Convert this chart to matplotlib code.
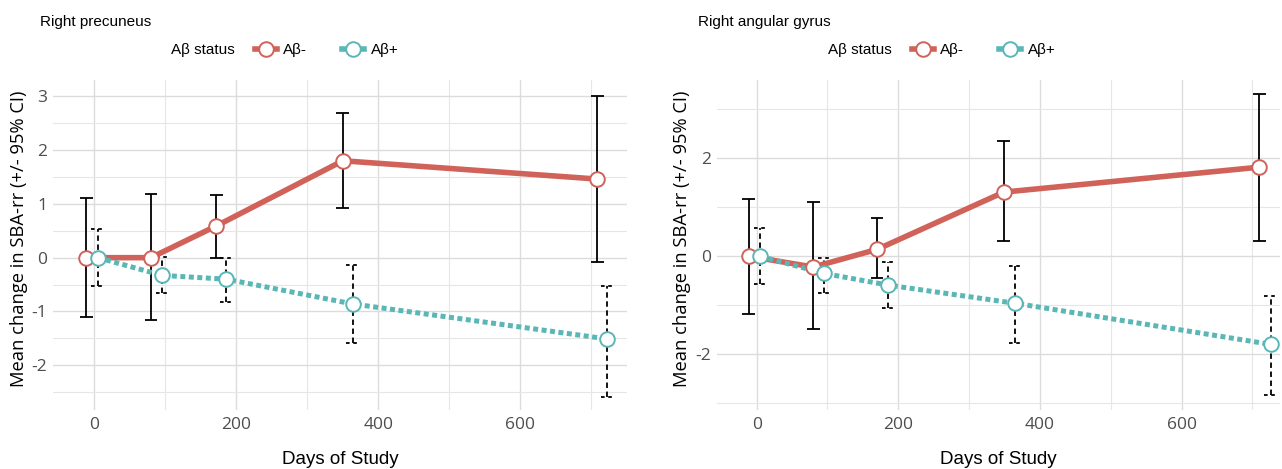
import numpy as np
import matplotlib.pyplot as plt
from matplotlib.lines import Line2D
from matplotlib.ticker import MultipleLocator

plt.rcParams['font.family'] = ['Liberation Sans', 'DejaVu Sans']
plt.rcParams['axes.unicode_minus'] = False

# ---- data ----
regions = ['Right precuneus', 'Right angular gyrus']

# Abeta- (red, solid)
neg_days = [[-11, 80, 172, 350, 708], [-11, 80, 170, 349, 710]]
neg_mean = [[0.0, 0.0, 0.59, 1.80, 1.46], [0.0, -0.22, 0.14, 1.31, 1.82]]
neg_lo = [[-1.10, -1.16, 0.00, 0.93, -0.09], [-1.18, -1.48, -0.44, 0.31, 0.31]]
neg_hi = [[1.11, 1.18, 1.17, 2.68, 3.01], [1.16, 1.11, 0.79, 2.35, 3.31]]

# Abeta+ (teal, dotted)
pos_days = [[5, 96, 186, 364, 722], [5, 95, 186, 365, 726]]
pos_mean = [[0.0, -0.33, -0.40, -0.86, -1.51], [0.0, -0.35, -0.59, -0.96, -1.80]]
pos_lo = [[-0.52, -0.66, -0.82, -1.59, -2.58], [-0.57, -0.76, -1.05, -1.78, -2.84]]
pos_hi = [[0.53, 0.01, 0.00, -0.14, -0.52], [0.58, -0.03, -0.11, -0.20, -0.81]]

y_major = [1, 2]

red = '#d0625a'
teal = '#5bb6b6'
W, H = 1282, 469

fig = plt.figure(figsize=(W / 100, H / 100), dpi=100)

# panel boxes in pixels: left, top, right, bottom
boxes = [(53, 80, 627, 410), (717, 80, 1280, 410)]
xlims = [(-58, 750), (-56, 739)]
ylims = [(-2.83, 3.30), (-3.14, 3.60)]
title_x = [40, 698]
legend_x = [171, 828]
key_x = [255, 912]
ylab_x = [19, 682]

cap = 9  # half cap width in days

for i in range(2):
    l, t, r, b = boxes[i]
    ax = fig.add_axes([l / W, 1 - b / H, (r - l) / W, (b - t) / H])
    for s in ax.spines.values():
        s.set_visible(False)
    ax.set_xlim(*xlims[i])
    ax.set_ylim(*ylims[i])
    ax.xaxis.set_major_locator(MultipleLocator(200))
    ax.xaxis.set_minor_locator(MultipleLocator(100))
    ax.yaxis.set_major_locator(MultipleLocator(y_major[i]))
    ax.yaxis.set_minor_locator(MultipleLocator(y_major[i] / 2))
    ax.grid(which='major', color='#dcdcdc', lw=1.0)
    ax.grid(which='minor', color='#e6e6e6', lw=0.8)
    ax.set_axisbelow(True)
    ax.tick_params(which='both', length=0, labelsize=12.5, labelcolor='#4d4d4d')
    ax.tick_params(axis='x', pad=5)
    ax.tick_params(axis='y', pad=4)
    for lab in ax.get_xticklabels() + ax.get_yticklabels():
        lab.set_family(['Open Sans', 'DejaVu Sans'])

    # error bars
    nd = np.array(neg_days[i])
    pd_ = np.array(pos_days[i])
    ax.vlines(nd, neg_lo[i], neg_hi[i], color='black', lw=1.3, zorder=2)
    ax.hlines(neg_lo[i], nd - cap, nd + cap, color='black', lw=1.3, zorder=2)
    ax.hlines(neg_hi[i], nd - cap, nd + cap, color='black', lw=1.3, zorder=2)
    ax.vlines(pd_, pos_lo[i], pos_hi[i], color='black', lw=1.3,
              linestyles=(0, (3, 2)), zorder=2)
    ax.hlines(pos_lo[i], pd_ - cap, pd_ + cap, color='black', lw=1.3,
              linestyles=(0, (2, 2)), zorder=2)
    ax.hlines(pos_hi[i], pd_ - cap, pd_ + cap, color='black', lw=1.3,
              linestyles=(0, (2, 2)), zorder=2)

    # lines + markers
    ax.plot(neg_days[i], neg_mean[i], color=red, lw=4, solid_capstyle='butt', zorder=3)
    ax.plot(pos_days[i], pos_mean[i], color=teal, lw=3.6,
            linestyle=(0, (1.0, 0.7)), dash_capstyle='butt', zorder=3)
    ax.plot(neg_days[i], neg_mean[i], 'o', ms=10.5, mfc='white', mec=red, mew=1.4, zorder=4)
    ax.plot(pos_days[i], pos_mean[i], 'o', ms=10.5, mfc='white', mec=teal, mew=1.4, zorder=4)

    # titles and labels
    fig.text(title_x[i] / W, 1 - 22 / H, regions[i], fontsize=11, va='center', ha='left')
    fig.text(legend_x[i] / W, 1 - 50 / H, 'Aβ status', fontsize=11, va='center', ha='left')
    handles = [Line2D([], [], color=red, lw=4, marker='o', ms=10.5, mfc='white', mec=red, mew=1.4),
               Line2D([], [], color=teal, lw=4, marker='o', ms=10.5, mfc='white', mec=teal, mew=1.4)]
    fig.legend(handles, ['Aβ-', 'Aβ+'], loc='center left',
               bbox_to_anchor=(key_x[i] / W, 1 - 50 / H), ncol=2, frameon=False,
               fontsize=11, borderpad=0, borderaxespad=0, handlelength=1.45,
               handletextpad=0.4, columnspacing=2.3)
    fig.text(ylab_x[i] / W, 1 - 239 / H, 'Mean change in SBA-rr (+/- 95% CI)',
             rotation=90, fontsize=13.2, va='center', ha='center',
             family=['Open Sans', 'DejaVu Sans'])
    fig.text(((l + r) / 2) / W, 1 - 459 / H, 'Days of Study', fontsize=13.5,
             va='center', ha='center')

fig.savefig('out.png', dpi=100)
